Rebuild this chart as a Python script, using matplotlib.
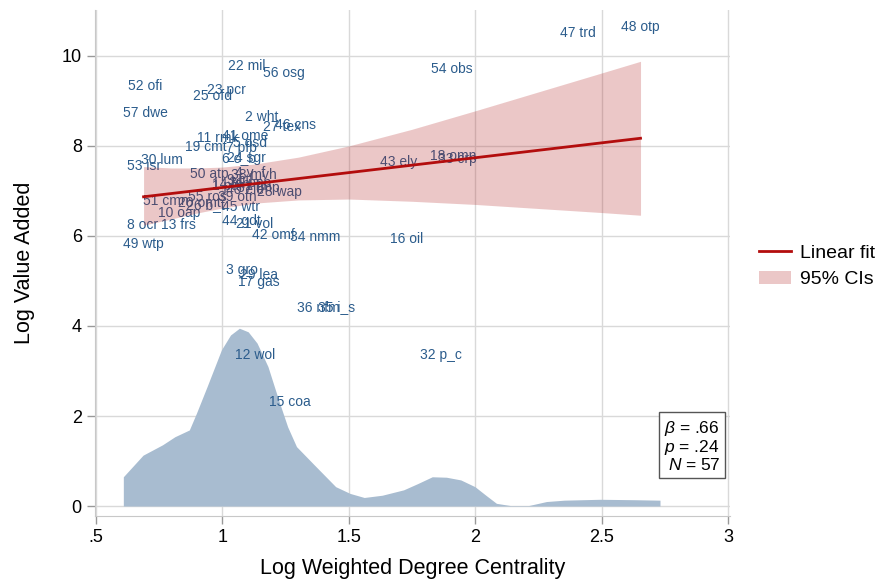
import matplotlib
matplotlib.use("Agg")
import matplotlib.pyplot as plt
from matplotlib.lines import Line2D
from matplotlib.patches import Patch

plt.rcParams['font.family'] = ['Liberation Sans', 'DejaVu Sans']
plt.rcParams['mathtext.fontset'] = 'custom'
plt.rcParams['mathtext.rm'] = 'Liberation Sans'
plt.rcParams['mathtext.it'] = 'Liberation Sans:italic'

# ---- data ----
sector_id = list(range(1, 58))
sector_code = ["pdr", "wht", "gro", "v_f", "osd", "c_b", "pfb", "ocr", "ctl", "oap",
               "rmk", "wol", "frs", "fsh", "coa", "oil", "gas", "omn", "cmt", "omt",
               "vol", "mil", "pcr", "sgr", "ofd", "b_t", "tex", "wap", "lea", "lum",
               "ppp", "p_c", "crp", "nmm", "i_s", "nfm", "fmp", "mvh", "otn", "ele",
               "ome", "omf", "ely", "gdt", "wtr", "cns", "trd", "otp", "wtp", "atp",
               "cmn", "ofi", "isr", "obs", "ros", "osg", "dwe"]
log_centrality = [1.022, 1.155, 1.078, 1.109, 1.109, 1.066, 1.076, 0.684, 1.070, 0.830,
                  0.981, 1.129, 0.826, 1.034, 1.267, 1.728, 1.145, 1.914, 0.935, 0.909,
                  1.127, 1.095, 1.016, 1.095, 0.961, 0.931, 1.236, 1.226, 1.145, 0.761,
                  1.109, 1.865, 1.930, 1.368, 1.451, 1.380, 1.141, 1.125, 1.060, 1.089,
                  1.091, 1.202, 1.697, 1.076, 1.074, 1.289, 2.407, 2.654, 0.688, 0.949,
                  0.777, 0.694, 0.690, 1.908, 0.941, 1.244, 0.696]
log_value_added = [7.11, 8.64, 5.24, 7.42, 8.07, 7.73, 7.96, 6.24, 7.24, 6.51,
                   8.18, 3.36, 6.24, 7.16, 2.31, 5.93, 4.98, 7.78, 7.98, 6.73,
                   6.27, 9.78, 9.24, 7.73, 9.11, 6.69, 8.42, 6.98, 5.13, 7.69,
                   7.18, 3.36, 7.71, 5.98, 4.42, 4.40, 7.07, 7.36, 6.87, 7.02,
                   8.22, 6.02, 7.64, 6.33, 6.64, 8.47, 10.51, 10.64, 5.82, 7.38,
                   6.78, 9.33, 7.56, 9.71, 6.87, 9.62, 8.73]

density_x = [0.608, 0.686, 0.763, 0.812, 0.869, 0.897, 0.939, 0.996, 1.032, 1.067,
             1.102, 1.137, 1.180, 1.222, 1.258, 1.293, 1.364, 1.448, 1.505, 1.561,
             1.632, 1.717, 1.773, 1.830, 1.886, 1.943, 1.999, 2.042, 2.084, 2.140,
             2.211, 2.282, 2.352, 2.494, 2.635, 2.731]
density_y = [0.65, 1.13, 1.36, 1.54, 1.69, 2.06, 2.65, 3.47, 3.80, 3.95,
             3.87, 3.62, 3.10, 2.36, 1.76, 1.32, 0.91, 0.43, 0.28, 0.19,
             0.24, 0.36, 0.50, 0.65, 0.64, 0.58, 0.43, 0.24, 0.06, 0.01,
             0.01, 0.10, 0.13, 0.15, 0.14, 0.13]

fit_x = [0.688, 2.654]
fit_y = [6.87, 8.17]

ci_x = [0.688, 0.8, 0.9, 1.0, 1.13, 1.3, 1.5, 1.75, 2.0, 2.25, 2.5, 2.654]
ci_lower = [6.24, 6.38, 6.51, 6.62, 6.73, 6.80, 6.82, 6.77, 6.70, 6.61, 6.52, 6.46]
ci_upper = [7.54, 7.51, 7.51, 7.53, 7.60, 7.75, 8.00, 8.37, 8.78, 9.20, 9.62, 9.88]

x_ticks = [0.5, 1, 1.5, 2, 2.5, 3]
x_tick_labels = [".5", "1", "1.5", "2", "2.5", "3"]
y_ticks = [0, 2, 4, 6, 8, 10]

stats_text = "$\\beta$ = .66\n$p$ = .24\n$N$ = 57"

# ---- figure ----
fig = plt.figure(figsize=(8.75, 5.8), dpi=100)
ax = fig.add_axes([0.1086, 0.1103, 0.7257, 0.8725])

ax.set_xlim(0.496, 3.008)
ax.set_ylim(-0.222, 11.02)

ax.set_xticks(x_ticks)
ax.set_xticklabels(x_tick_labels)
ax.set_yticks(y_ticks)
ax.grid(True, color='#d9d9d9', lw=1.0, zorder=0)
ax.set_axisbelow(True)

for s in ['top', 'right']:
    ax.spines[s].set_visible(False)
for s in ['left', 'bottom']:
    ax.spines[s].set_color('#c8c8c8')

ax.tick_params(axis='both', labelsize=13, color='#999999', length=6, width=1)

# density
ax.fill_between(density_x, 0, density_y, color='#a8bcd0', lw=0, zorder=1)

# labels
for i, c, x, y in zip(sector_id, sector_code, log_centrality, log_value_added):
    ax.text(x, y, f"{i} {c}", ha='center', va='center', fontsize=10,
            color='#2b5c8c', zorder=2)

# CI band and fit
ax.fill_between(ci_x, ci_lower, ci_upper, color='#b22222', alpha=0.25, lw=0, zorder=3)
ax.plot(fit_x, fit_y, color='#b30d0d', lw=2, zorder=4)

ax.set_xlabel("Log Weighted Degree Centrality", fontsize=15.5, labelpad=8.5)
ax.set_ylabel("Log Value Added", fontsize=15.5, labelpad=19)

# stats box
fig.text(720 / 875, 1 - 446 / 580, stats_text, ha='right', va='center',
         fontsize=12.5, linespacing=1.0, multialignment='right',
         bbox=dict(boxstyle='square,pad=0.3', fc='white', ec='#555555', lw=1))

handles = [Line2D([0], [0], color='#b30d0d', lw=2),
           Patch(facecolor='#b22222', alpha=0.25, edgecolor='none')]
fig.legend(handles, ["Linear fit", "95% CIs"], loc='center left',
           bbox_to_anchor=(759 / 875, 1 - 266.5 / 580), frameon=False, fontsize=14,
           handlelength=1.65, handleheight=0.65, handletextpad=0.46,
           labelspacing=0.45, borderpad=0, borderaxespad=0)

fig.savefig("out.png", dpi=100)
